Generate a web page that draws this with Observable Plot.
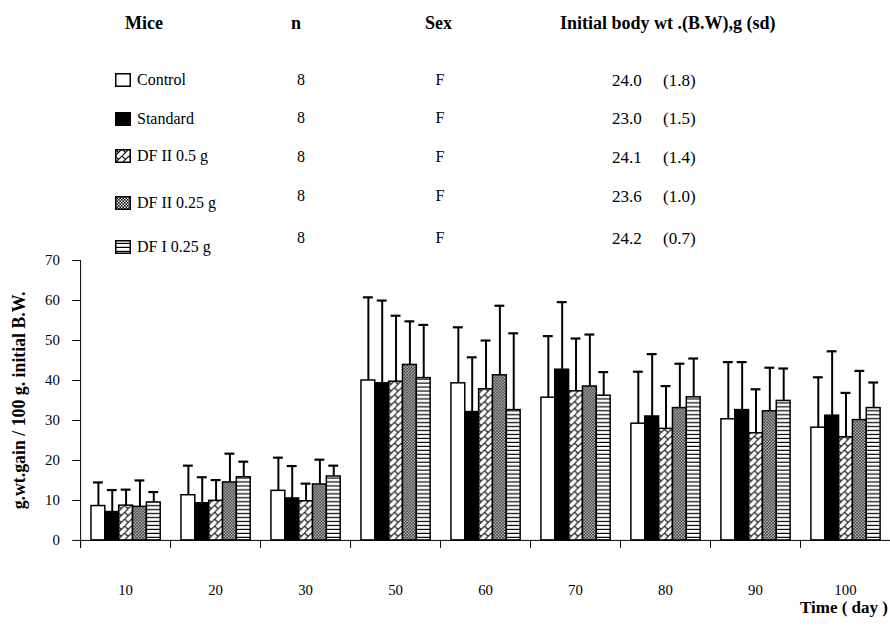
<!DOCTYPE html>
<html>
<head>
<meta charset="utf-8">
<script src="https://cdn.jsdelivr.net/npm/d3@7"></script>
<script src="https://cdn.jsdelivr.net/npm/@observablehq/plot@0.6"></script>
<style>
  html, body { margin: 0; padding: 0; background: #fff; overflow: hidden; width: 890px; height: 626px; }
  body { position: relative; font-family: "Liberation Serif", "Times New Roman", serif; color: #000; }
  .t { position: absolute; white-space: pre; line-height: 1; }
  .b { font-weight: bold; }
  #chart { position: absolute; left: 0; top: 0; }
</style>
</head>
<body>
<svg width="0" height="0" style="position:absolute">
  <defs>
    <pattern id="pat-hatch" width="7" height="7" patternUnits="userSpaceOnUse">
      <rect width="7" height="7" fill="white"/>
      <path d="M-1,8 L8,-1 M0,0 L3.5,3.5" stroke="black" stroke-width="1.1" fill="none"/>
    </pattern>
    <pattern id="pat-check" width="3" height="3" patternUnits="userSpaceOnUse">
      <rect width="3" height="3" fill="white"/>
      <rect width="1.6" height="1.6" fill="black"/>
      <rect x="1.5" y="1.5" width="1.6" height="1.6" fill="black"/>
    </pattern>
    <pattern id="pat-hline" width="4" height="4" patternUnits="userSpaceOnUse">
      <rect width="4" height="4" fill="white"/>
      <rect y="2.8" width="4" height="1.2" fill="black"/>
    </pattern>
  </defs>
</svg>
<div id="chart"></div>
<div id="legend"></div>
<script>
// ---------------- data ----------------
const days = [10, 20, 30, 50, 60, 70, 80, 90, 100];
const groups = ["Control", "Standard", "DF II 0.5 g", "DF II 0.25 g", "DF I 0.25 g"];

// mean weight gain (g / 100 g initial B.W.)
const controlMean  = [8.6, 11.3, 12.4, 40.0, 39.3, 35.7, 29.2, 30.3, 28.2];
const standardMean = [7.1,  9.3, 10.5, 39.3, 32.1, 42.7, 31.0, 32.6, 31.2];
const dfII05Mean   = [8.7,  9.9,  9.8, 39.7, 37.8, 37.3, 27.9, 26.8, 25.8];
const dfII025Mean  = [8.4, 14.5, 14.0, 43.9, 41.3, 38.5, 33.1, 32.3, 30.1];
const dfI025Mean   = [9.5, 15.8, 16.0, 40.6, 32.6, 36.2, 35.8, 34.9, 33.1];

// standard deviations (error bars)
const controlSd  = [5.9, 7.4, 8.3, 20.8, 14.0, 15.4, 13.0, 14.3, 12.6];
const standardSd = [5.5, 6.5, 8.1, 20.7, 13.7, 16.9, 15.6, 12.0, 16.1];
const dfII05Sd   = [4.0, 5.2, 4.4, 16.5, 12.2, 13.2, 10.7, 11.0, 11.1];
const dfII025Sd  = [6.6, 7.2, 6.2, 10.9, 17.4, 13.0, 11.1, 10.9, 12.3];
const dfI025Sd   = [2.6, 3.9, 2.7, 13.3, 19.2,  5.9,  9.7,  8.1,  6.4];

// table of the legend
const tableHeaders = ["Mice", "n", "Sex", "Initial body wt .(B.W),g (sd)"];
const nValues = ["8", "8", "8", "8", "8"];
const sexValues = ["F", "F", "F", "F", "F"];
const initialWt = ["24.0", "23.0", "24.1", "23.6", "24.2"];
const initialSd = ["(1.8)", "(1.5)", "(1.4)", "(1.0)", "(0.7)"];

const yTicks = [0, 10, 20, 30, 40, 50, 60, 70];
const yTitle = "g.wt.gain / 100 g. initial B.W.";
const xTitle = "Time ( day )";

// ---------------- styles ----------------
const groupFills = ["white", "black", "url(#pat-hatch)", "url(#pat-check)", "url(#pat-hline)"];

const means = [controlMean, standardMean, dfII05Mean, dfII025Mean, dfI025Mean];
const sds = [controlSd, standardSd, dfII05Sd, dfII025Sd, dfI025Sd];
const rows = [];
groups.forEach((g, gi) => days.forEach((d, di) => {
  rows.push({day: d, group: g, mean: means[gi][di], upper: means[gi][di] + sds[gi][di]});
}));

const chart = Plot.plot({
  width: 900,
  height: 626,
  marginTop: 263,
  marginBottom: 80,
  marginLeft: 81,
  marginRight: 0,
  style: {fontFamily: "'Liberation Serif', 'Times New Roman', serif", fontSize: "15px", color: "black", background: "transparent", overflow: "visible"},
  fx: {domain: days, paddingInner: 0, paddingOuter: 0},
  x: {domain: groups, paddingInner: 0, paddingOuter: 0.75, axis: null},
  y: {domain: [0, 70]},
  color: {domain: groups, range: groupFills},
  marks: [
    Plot.barY(rows, {fx: "day", x: "group", y: "mean", fill: "group", stroke: "black", strokeWidth: 1.5}),
    Plot.ruleX(rows, {fx: "day", x: "group", y1: "mean", y2: "upper", stroke: "black", strokeWidth: 2}),
    Plot.tickY(rows, {fx: "day", x: "group", y: "upper", stroke: "black", strokeWidth: 2.2, insetLeft: 2, insetRight: 2}),
    Plot.frame({anchor: "bottom", stroke: "black", strokeWidth: 1}),
    Plot.frame({anchor: "left", facetAnchor: "left", insetBottom: -7, stroke: "black", strokeWidth: 1}),
    Plot.frame({anchor: "left", insetTop: 283, insetBottom: -7, stroke: "black", strokeWidth: 1}),
    Plot.axisY({ticks: yTicks, tickFormat: d => String(d), tickSize: 8, tickPadding: 13, label: yTitle, labelAnchor: "center", labelOffset: 69, labelArrow: "none"}),
    Plot.axisFx({anchor: "bottom", tickSize: 0, tickPadding: 45, label: null, tickFormat: d => String(d)})
  ]
});
document.getElementById("chart").appendChild(chart);

// make y title bold
chart.querySelectorAll('[aria-label="y-axis label"] text').forEach(t => {
  t.style.fontWeight = "bold";
  t.style.fontSize = "18px";
});

// ---------------- legend table (HTML) ----------------
const legend = document.getElementById("legend");
function put(text, {x, cy, size, bold = false, align = "left"}) {
  const el = document.createElement("div");
  el.className = "t" + (bold ? " b" : "");
  el.textContent = text;
  el.style.fontSize = size + "px";
  el.style.top = (cy - size * 0.5) + "px";
  if (align === "left") el.style.left = x + "px";
  else if (align === "center") { el.style.left = x + "px"; el.style.transform = "translateX(-50%)"; }
  else { el.style.right = (890 - x) + "px"; }
  legend.appendChild(el);
  return el;
}
const headerX = [125, 296, 425, 560];
const headerAlign = ["left", "center", "left", "left"];
tableHeaders.forEach((h, i) => put(h, {x: headerX[i], cy: 23, size: 18, bold: true, align: headerAlign[i]}));

const labelCy = [80, 119, 156, 203, 247];
const valueCy = [80, 118, 157, 196, 238];
groups.forEach((g, i) => {
  const sw = document.createElementNS("http://www.w3.org/2000/svg", "svg");
  sw.setAttribute("width", 16); sw.setAttribute("height", 14);
  sw.style.position = "absolute";
  sw.style.left = "115px";
  sw.style.top = (labelCy[i] - 7) + "px";
  const r = document.createElementNS("http://www.w3.org/2000/svg", "rect");
  r.setAttribute("x", 0.75); r.setAttribute("y", 0.75);
  r.setAttribute("width", 14.5); r.setAttribute("height", 12.5);
  r.setAttribute("fill", groupFills[i]);
  r.setAttribute("stroke", "black"); r.setAttribute("stroke-width", 1.5);
  sw.appendChild(r);
  legend.appendChild(sw);
  put(g, {x: 137, cy: labelCy[i], size: 16});
  put(nValues[i], {x: 301, cy: valueCy[i], size: 16, align: "center"});
  put(sexValues[i], {x: 440, cy: valueCy[i], size: 16, align: "center"});
  put(initialWt[i], {x: 612, cy: valueCy[i], size: 17});
  put(initialSd[i], {x: 663, cy: valueCy[i], size: 17});
});

put(xTitle, {x: 888, cy: 607, size: 17, bold: true, align: "right"});
</script>
</body>
</html>
